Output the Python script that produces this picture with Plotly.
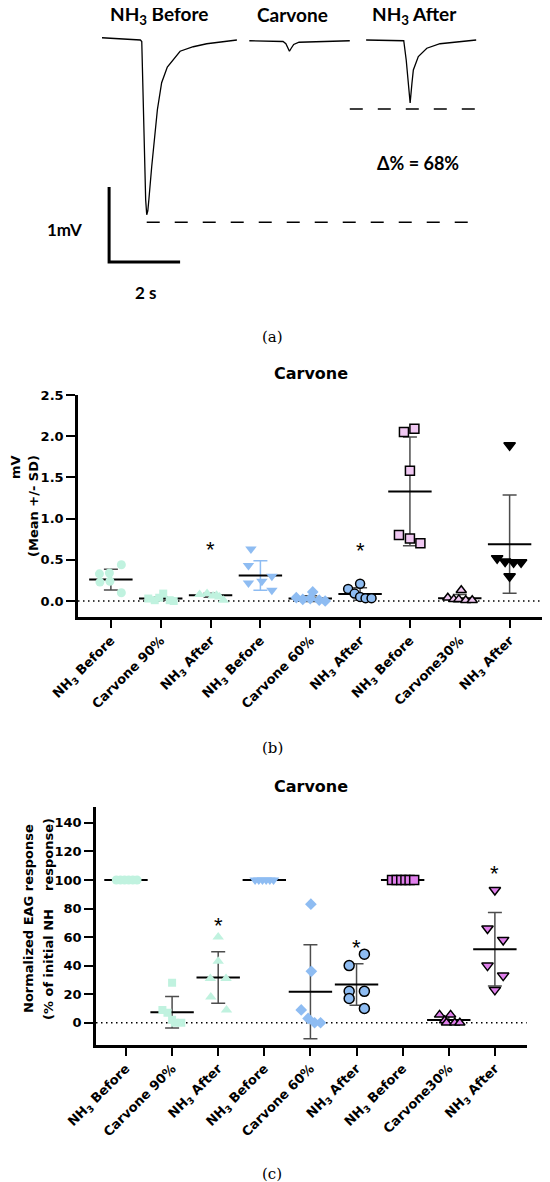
import plotly.graph_objects as go

W, H = 550, 1182
OFF = 8  # the page body adds an 8px margin, so layout positions are pulled back by it

# ---- (a) EAG recordings: time [s], signal [mV]
before_t = [0.00, 0.60, 1.08, 1.12, 1.15, 1.18, 1.23, 1.26, 1.29, 1.32, 1.40, 1.56, 1.68, 1.84, 2.06, 2.20, 2.57, 2.95, 3.80]
before_mv = [0.03, 0.01, 0.00, -0.02, -0.58, -1.47, -2.13, -2.33, -2.28, -2.13, -1.69, -0.93, -0.57, -0.36, -0.23, -0.15, -0.09, -0.05, 0.00]
carvone_t = [4.15, 5.10, 5.18, 5.24, 5.28, 5.33, 5.40, 5.55, 6.98]
carvone_mv = [-0.01, -0.02, -0.05, -0.11, -0.15, -0.11, -0.06, -0.03, -0.01]
after_t = [7.44, 8.50, 8.57, 8.64, 8.68, 8.73, 8.77, 8.91, 9.15, 9.52, 10.54]
after_mv = [0.00, -0.01, -0.27, -0.62, -0.84, -0.58, -0.40, -0.22, -0.11, -0.05, 0.00]
peak_levels = [-2.43, -0.92]
delta_pct = 68
scale_s = 2
scale_mv = 1

# ---- (b) and (c) groups
groups = ["NH<sub>3</sub> Before", "Carvone 90%", "NH<sub>3</sub> After",
          "NH<sub>3</sub> Before", "Carvone 60%", "NH<sub>3</sub> After",
          "NH<sub>3</sub> Before", "Carvone30%", "NH<sub>3</sub> After"]

mv_points = [
    [0.33, 0.34, 0.44, 0.23, 0.24, 0.10],
    [0.03, 0.01, 0.09, 0.01, 0.00, 0.04],
    [0.08, 0.09, 0.06, 0.05, 0.01, 0.07],
    [0.63, 0.43, 0.30, 0.22, 0.24, 0.13],
    [0.04, 0.02, 0.03, 0.11, 0.01, 0.00],
    [0.145, 0.21, 0.09, 0.05, 0.035, 0.035],
    [2.05, 2.09, 1.58, 0.80, 0.76, 0.70],
    [0.04, 0.02, 0.13, 0.02, 0.01, 0.01],
    [1.89, 0.52, 0.48, 0.47, 0.47, 0.30],
]
mv_mean = [0.26, 0.03, 0.07, 0.31, 0.03, 0.085, 1.33, 0.035, 0.69]
mv_sd = [0.125, 0.02, 0.025, 0.18, 0.035, 0.075, 0.66, 0.045, 0.595]
mv_stars = [2, 5]
mv_star_y = [0.70, 0.69]

norm_points = [
    [100, 100, 100, 100, 100, 100],
    [28, 9, 7, 2, 0, 0],
    [60, 43, 31, 31, 18, 9],
    [100, 100, 100, 100, 100, 100],
    [83, 36, 9, 3, 0, 0],
    [48, 40, 22, 22, 17, 10],
    [100, 100, 100, 100, 100, 100],
    [5.5, 5.5, 1.5, 0, 0, 0],
    [93, 66, 58, 40, 33, 23],
]
norm_mean = [100, 7.3, 31.7, 100, 21.7, 26.8, 100, 1.9, 51.5]
norm_sd = [0, 11, 18, 0, 33, 14.5, 0, 2.7, 25.7]
norm_stars = [2, 5, 8]
norm_star_y = [72, 57, 109]

mv_ticks = [0, 0.5, 1.0, 1.5, 2.0, 2.5]
norm_ticks = [0, 20, 40, 60, 80, 100, 120, 140]

# horizontal scatter of the points inside each column (category units)
jitter_b = [
    [-0.23, -0.03, 0.21, -0.22, -0.02, 0.21],
    [-0.25, -0.12, 0.05, 0.18, 0.26, -0.03],
    [-0.22, -0.07, 0.05, 0.18, 0.26, 0.12],
    [-0.19, -0.24, 0.23, -0.24, 0.03, 0.23],
    [-0.28, -0.15, 0.00, 0.05, 0.18, 0.30],
    [-0.24, 0.00, -0.11, 0.00, 0.11, 0.23],
    [-0.12, 0.09, 0.00, -0.22, 0.00, 0.21],
    [-0.24, -0.12, 0.03, -0.02, 0.12, 0.25],
    [0.00, -0.25, -0.09, 0.08, 0.23, 0.00],
]
jitter_c = [
    [-0.21, -0.12, -0.03, 0.06, 0.15, 0.24],
    [0.00, -0.21, -0.10, 0.00, 0.06, 0.20],
    [0.00, 0.00, -0.17, 0.17, -0.16, 0.18],
    [-0.20, -0.12, -0.04, 0.04, 0.12, 0.20],
    [0.01, 0.02, -0.20, -0.05, 0.09, 0.22],
    [0.17, -0.16, -0.16, 0.17, -0.16, 0.17],
    [-0.23, -0.13, -0.03, 0.06, 0.15, 0.25],
    [-0.20, 0.04, -0.09, -0.05, 0.13, 0.24],
    [0.00, -0.16, 0.18, -0.16, 0.18, 0.00],
]

MINT = "#c0f2df"
BLUE = "#8ebcf2"
PINK = "#f0c8f2"
VIOLET = "#e07fec"
GREY = "#4d4d4d"

symbols = ["circle", "square", "triangle-up", "triangle-down", "diamond",
           "circle", "square", "triangle-up", "triangle-down"]
fill_b = [MINT, MINT, MINT, BLUE, BLUE, BLUE, PINK, PINK, "black"]
fill_c = [MINT, MINT, MINT, BLUE, BLUE, BLUE, VIOLET, VIOLET, VIOLET]
edge_b = [MINT, MINT, MINT, BLUE, BLUE, "black", "black", "black", "black"]
edge_c = [MINT, MINT, MINT, BLUE, BLUE, "black", "black", "black", "black"]
err_b = [GREY, GREY, GREY, BLUE, GREY, GREY, GREY, GREY, GREY]
sizes_b = [9, 8, 10, 10, 9, 9, 9, 9, 10]
sizes_c = [9, 8, 10, 10, 9, 10, 9, 9, 10]


def px(x):
    return (x - OFF) / W


def py(y):
    return 1 - (y - OFF) / H


# panel (a) drawing scale: pixel position of t=0 / 0 mV and px per s / mV
A_X0, A_PX_S = 102, 35.5
A_Y0, A_PX_MV = 40, 75
a_xrange = [(OFF - A_X0) / A_PX_S, (OFF + W - A_X0) / A_PX_S]
a_yrange = [-(300 - A_Y0) / A_PX_MV, -(OFF - A_Y0) / A_PX_MV]

fig = go.Figure()

# ---- panel (a)
for t, v in [(before_t, before_mv), (carvone_t, carvone_mv), (after_t, after_mv)]:
    fig.add_trace(go.Scatter(x=t, y=v, mode="lines", line=dict(color="black", width=1.3),
                             xaxis="x", yaxis="y", hoverinfo="skip"))

t_peak = before_t[before_mv.index(min(before_mv))]
for x0, lvl in [(t_peak, peak_levels[0]), (carvone_t[-1], peak_levels[1])]:
    fig.add_trace(go.Scatter(x=[x0, after_t[-1]], y=[lvl, lvl], mode="lines",
                             line=dict(color="black", width=1.5, dash="13px,15px"),
                             xaxis="x", yaxis="y", hoverinfo="skip"))

bar_x, bar_y = 0.2, -2.96
fig.add_trace(go.Scatter(x=[bar_x, bar_x, bar_x + scale_s], y=[bar_y + scale_mv, bar_y, bar_y],
                         mode="lines", line=dict(color="black", width=3),
                         xaxis="x", yaxis="y", hoverinfo="skip"))


# ---- panels (b) and (c)
def add_panel(points, means, sds, jitter, xa, ya, fills, edges, errs, sizes):
    for i in range(len(groups)):
        fig.add_trace(go.Scatter(
            x=[i], y=[means[i]], mode="markers", xaxis=xa, yaxis=ya, hoverinfo="skip",
            marker=dict(symbol="line-ew", size=31, line=dict(width=2, color="black")),
            error_y=dict(type="data", array=[sds[i]], width=7, thickness=1.5, color=errs[i])))
        lw = 1.5 if edges[i] == "black" else 0
        fig.add_trace(go.Scatter(
            x=[i + d for d in jitter[i]], y=points[i], mode="markers", xaxis=xa, yaxis=ya,
            marker=dict(symbol=symbols[i], size=sizes[i], color=fills[i],
                        line=dict(width=lw, color=edges[i]))))


add_panel(mv_points, mv_mean, mv_sd, jitter_b, "x2", "y2", fill_b, edge_b, err_b, sizes_b)
add_panel(norm_points, norm_mean, norm_sd, jitter_c, "x3", "y3", fill_c, edge_c, [GREY] * 9, sizes_c)

tick_font = dict(family="DejaVu Sans", size=13, color="black", weight="bold")
ax_style = dict(showgrid=False, zeroline=False, showline=True, linecolor="black", linewidth=2.5,
                ticks="outside", tickwidth=2, tickcolor="black", tickfont=tick_font,
                fixedrange=True, automargin=False)

fig.update_layout(
    width=W, height=H, margin=dict(l=0, r=0, t=0, b=0, pad=0, autoexpand=False),
    paper_bgcolor="white", plot_bgcolor="rgba(0,0,0,0)", showlegend=False,
    xaxis=dict(domain=[0, 1], range=a_xrange, visible=False, anchor="y", automargin=False),
    yaxis=dict(domain=[py(300), 1], range=a_yrange, visible=False, anchor="x", automargin=False),
    xaxis2=dict(domain=[px(78), px(543)], range=[-0.66, 8.67], anchor="y2",
                tickvals=list(range(9)), ticktext=groups, tickangle=-45, ticklen=8, **ax_style),
    yaxis2=dict(domain=[py(617), py(395)], range=[-0.194, 2.5], anchor="x2",
                tickvals=mv_ticks, tickformat=".1f", ticklen=9, **ax_style),
    xaxis3=dict(domain=[px(96), px(526.7)], range=[-0.65, 8.69], anchor="y3",
                tickvals=list(range(9)), ticktext=groups, tickangle=-45, ticklen=8, **ax_style),
    yaxis3=dict(domain=[py(1045), py(806.7)], range=[-15.6, 151.3], anchor="x3",
                tickvals=norm_ticks, ticklen=9, **ax_style),
)

for xa, ya in [("x2", "y2"), ("x3", "y3")]:
    fig.add_shape(type="line", xref=f"{xa} domain", x0=0, x1=1, yref=ya, y0=0, y1=0,
                  line=dict(color="black", width=1.5, dash="1.5px,3.5px"), layer="below")

for gi, yv in zip(mv_stars, mv_star_y):
    fig.add_annotation(x=gi, y=yv, xref="x2", yref="y2", text="*", showarrow=False, yshift=-6,
                       font=dict(family="Liberation Sans", size=22, color="black"))
for gi, yv in zip(norm_stars, norm_star_y):
    fig.add_annotation(x=gi, y=yv, xref="x3", yref="y3", text="*", showarrow=False, yshift=-6,
                       font=dict(family="Liberation Sans", size=22, color="black"))

lato = dict(family="Lato", size=19, color="black", weight="bold")
for txt, x, y, f in [
    ("NH<sub>3</sub> Before", 159, 15, lato),
    ("Carvone", 292, 15, lato),
    ("NH<sub>3</sub> After", 414, 15, lato),
    (f"\u0394% = {delta_pct}%", 418, 163, dict(lato, size=18)),
    (f"{scale_mv}mV", 64, 229, dict(lato, size=17)),
    (f"{scale_s} s", 145, 292, dict(lato, size=17)),
]:
    fig.add_annotation(x=px(x), y=py(y), xref="paper", yref="paper", text=txt, showarrow=False,
                       xanchor="center", yanchor="middle", font=f)

serif = dict(family="DejaVu Serif", size=15, color="black")
for txt, y in [("(a)", 337), ("(b)", 748), ("(c)", 1174)]:
    fig.add_annotation(x=px(272), y=py(y), xref="paper", yref="paper", text=txt, showarrow=False,
                       xanchor="center", yanchor="middle", font=serif)

title_font = dict(family="DejaVu Sans", size=16, color="black", weight="bold")
for y in [374, 786]:
    fig.add_annotation(x=px(311), y=py(y), xref="paper", yref="paper", text="Carvone", showarrow=False,
                       xanchor="center", yanchor="middle", font=title_font)

for txt, x, y in [
    ("mV", 15, 467),
    ("(Mean +/- SD)", 33, 506),
    ("Normalized EAG response", 28, 919),
    ("(% of initial NH\u00a0\u00a0\u00a0 response)", 48, 919),
]:
    fig.add_annotation(x=px(x), y=py(y), xref="paper", yref="paper", text=txt, showarrow=False,
                       textangle=-90, xanchor="center", yanchor="middle", font=tick_font)

fig.write_html("out.html")
